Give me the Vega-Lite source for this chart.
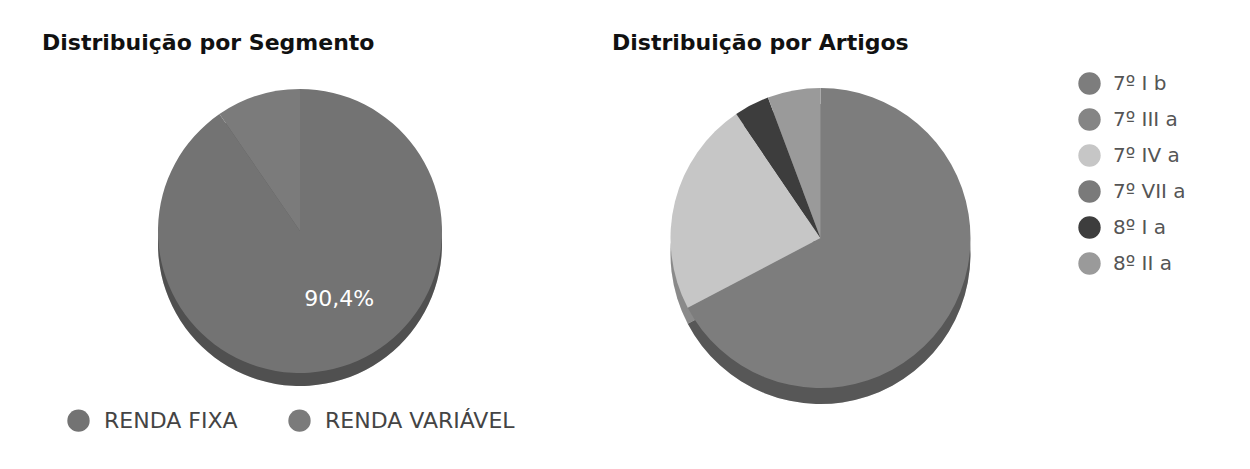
{
  "$schema": "https://vega.github.io/schema/vega-lite/v6.json",
  "padding": {"left": 7, "top": 8, "right": 4, "bottom": 6},
  "spacing": 0,
  "bounds": "flush",
  "background": "white",
  "resolve": {"scale": {"color": "independent", "theta": "independent"}, "legend": {"color": "independent"}},
  "config": {
    "font": "DejaVu Sans",
    "view": {"stroke": "#666666", "strokeWidth": 1},
    "title": {"font": "DejaVu Sans", "fontSize": 22, "fontWeight": "bold", "color": "#111111", "anchor": "start", "frame": "group", "baseline": "alphabetic"},
    "legend": {"labelFont": "DejaVu Sans", "padding": 0, "symbolType": "circle", "symbolSize": 500, "symbolStrokeWidth": 0, "title": null, "labelLimit": 0}
  },
  "hconcat": [
    {
      "width": 588,
      "height": 455,
      "title": {"text": "Distribuição por Segmento", "offset": -47, "dx": 35},
      "data": {"values": [
        {"segmento": "RENDA FIXA", "valor": 90.4, "ordem": 1, "rotulo": "90,4%"},
        {"segmento": "RENDA VARIÁVEL", "valor": 9.6, "ordem": 2, "rotulo": ""}
      ]},
      "encoding": {
        "theta": {"field": "valor", "type": "quantitative", "stack": true},
        "order": {"field": "ordem", "type": "quantitative"}
      },
      "layer": [
        {
          "mark": {"type": "arc", "radius": 142, "xOffset": -1, "yOffset": 8.5},
          "encoding": {
            "color": {"field": "segmento", "type": "nominal",
              "scale": {"domain": ["RENDA FIXA", "RENDA VARIÁVEL"], "range": ["#737373", "#7b7b7b"]},
              "legend": {"orient": "none", "direction": "horizontal", "legendX": 60, "legendY": 401, "labelFontSize": 22, "labelColor": "#444444", "labelOffset": 14, "columnPadding": 50}}
          }
        },
        {
          "mark": {"type": "arc", "radius": 142, "xOffset": -1, "yOffset": 8.5, "fill": "#000000", "fillOpacity": 0.3},
          "encoding": {"detail": {"field": "segmento", "type": "nominal"}}
        },
        {
          "mark": {"type": "arc", "radius": 142, "xOffset": -1, "yOffset": -4.5},
          "encoding": {
            "color": {"field": "segmento", "type": "nominal"}
          }
        },
        {
          "mark": {"type": "text", "radius": 78, "xOffset": 15, "yOffset": -11, "fontSize": 22, "fill": "#ffffff", "font": "DejaVu Sans"},
          "encoding": {
            "detail": {"field": "segmento", "type": "nominal"},
            "text": {"field": "rotulo", "type": "nominal"}
          }
        }
      ]
    },
    {
      "width": 651,
      "height": 455,
      "title": {"text": "Distribuição por Artigos", "offset": -47, "dx": 17},
      "data": {"values": [
        {"artigo": "7º I b", "valor": 67.3, "ordem": 1},
        {"artigo": "7º III a", "valor": 0, "ordem": 2},
        {"artigo": "7º IV a", "valor": 23.2, "ordem": 3},
        {"artigo": "7º VII a", "valor": 0, "ordem": 4},
        {"artigo": "8º I a", "valor": 3.8, "ordem": 5},
        {"artigo": "8º II a", "valor": 5.7, "ordem": 6}
      ]},
      "encoding": {
        "theta": {"field": "valor", "type": "quantitative", "stack": true},
        "order": {"field": "ordem", "type": "quantitative"}
      },
      "layer": [
        {
          "mark": {"type": "arc", "radius": 150, "xOffset": -100, "yOffset": 18.5},
          "encoding": {
            "color": {"field": "artigo", "type": "nominal",
              "scale": {"domain": ["7º I b", "7º III a", "7º IV a", "7º VII a", "8º I a", "8º II a"],
                        "range": ["#7d7d7d", "#858585", "#c6c6c6", "#7a7a7a", "#3d3d3d", "#9a9a9a"]},
              "legend": {"orient": "none", "direction": "vertical", "legendX": 483, "legendY": 64, "labelFontSize": 20, "labelColor": "#555555", "labelOffset": 12, "rowPadding": 13}}
          }
        },
        {
          "mark": {"type": "arc", "radius": 150, "xOffset": -100, "yOffset": 18.5, "fill": "#000000", "fillOpacity": 0.3},
          "encoding": {"detail": {"field": "artigo", "type": "nominal"}}
        },
        {
          "mark": {"type": "arc", "radius": 150, "xOffset": -100, "yOffset": 2.5},
          "encoding": {
            "color": {"field": "artigo", "type": "nominal"}
          }
        }
      ]
    }
  ]
}
